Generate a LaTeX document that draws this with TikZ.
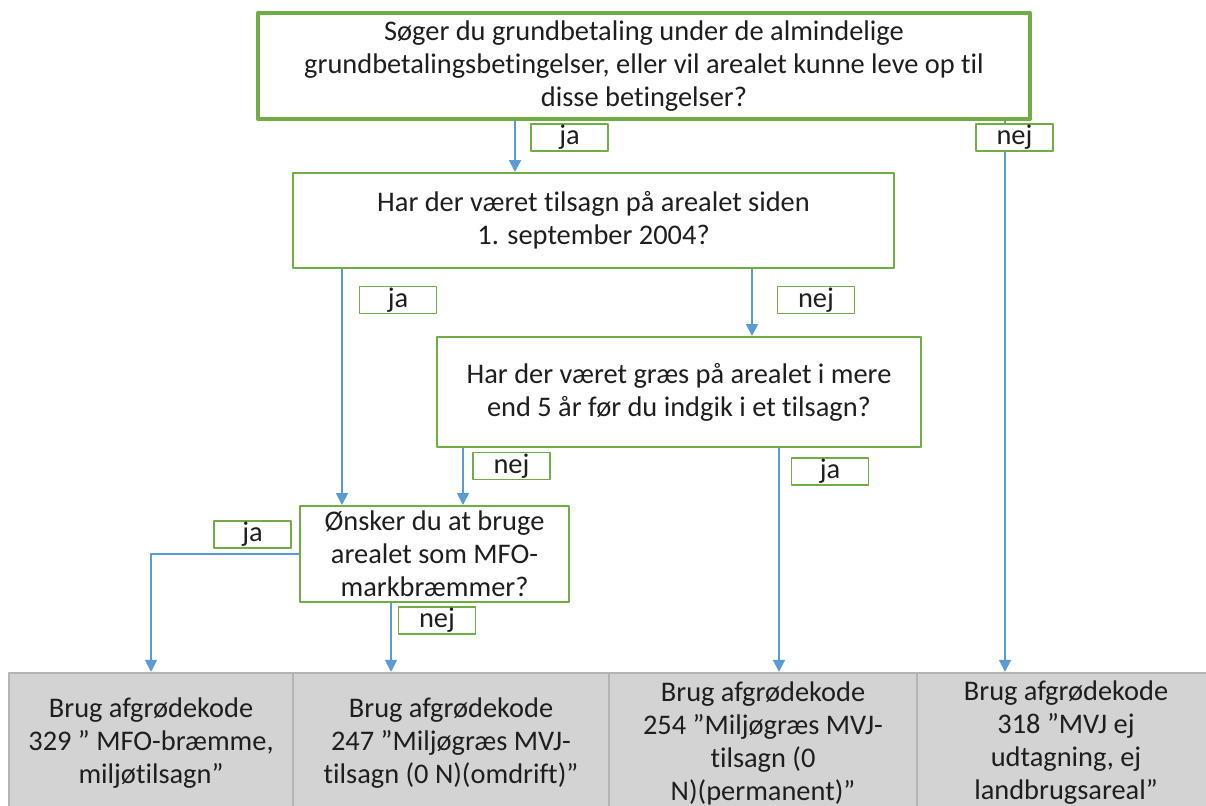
\documentclass[tikz,border=0pt]{standalone}
\usepackage{fontspec}
\setmainfont{Carlito}[Ligatures=NoCommon]
\usetikzlibrary{arrows.meta}
\definecolor{boxgreen}{HTML}{70AD47}
\definecolor{arrowblue}{HTML}{5B9BD5}
\definecolor{codegray}{HTML}{D3D3D3}
\definecolor{codeline}{HTML}{B4B4B4}
\definecolor{txt}{HTML}{1E1E1E}
\tikzset{
	question/.style = {draw=boxgreen, line width=1pt, fill=white, align=center, text=txt, inner sep=2pt},
	answer/.style = {draw=boxgreen, line width=0.8pt, fill=white, text=txt, inner sep=0pt, minimum width=38.5pt, minimum height=13.5pt},
	codebox/.style = {draw=codeline, line width=1.2pt, fill=codegray, align=center, text=txt, inner sep=2pt, minimum height=70pt},
	arr/.style = {draw=arrowblue, line width=0.9pt, -{Triangle[width=6pt,length=6pt]}}
}
\begin{document}
\begin{tikzpicture}[x=0.5pt, y=-0.5pt, font=\fontsize{14.2}{16.5}\selectfont, line join = round]
		\clip (0,0) rectangle (1206,805);
		\fill [white] (0,0) rectangle (1206,805);
		% questions
		\node [question, line width=2pt, minimum width=386pt, minimum height=53pt] (q1) at (644,66)
			{Søger du grundbetaling under de almindelige\\grundbetalingsbetingelser, eller vil arealet kunne leve op til\\disse betingelser?};
		\node [question, minimum width=300.5pt, minimum height=47.5pt] (q2) at (593.5,220.5)
			{Har der været tilsagn på arealet siden\\1. september 2004?};
		\node [question, minimum width=242pt, minimum height=55pt] (q3) at (679,392)
			{Har der været græs på arealet i mere\\end 5 år før du indgik i et tilsagn?};
		\node [question, minimum width=134.5pt, minimum height=48pt] (q4) at (434.5,554)
			{Ønsker du at bruge\\arealet som MFO-\\markbræmmer?};
		% crop codes
		\node [codebox, minimum width=142pt] (b1) at (151,743)
			{Brug afgrødekode\\329 ” MFO-bræmme,\\miljøtilsagn”};
		\node [codebox, minimum width=158pt] (b2) at (451,743)
			{Brug afgrødekode\\247 ”Miljøgræs MVJ-\\tilsagn (0 N)(omdrift)”};
		\node [codebox, minimum width=154pt] (b3) at (763,743)
			{Brug afgrødekode\\254 ”Miljøgræs MVJ-\\tilsagn (0\\N)(permanent)”};
		\node [codebox, minimum width=149pt] (b4) at (1066,743)
			{Brug afgrødekode\\318 ”MVJ ej\\udtagning, ej\\landbrugsareal”};
		% connectors
		\draw [arr] (q1.south -| 515,0) -- (q2.north -| 515,0);
		\draw [arr] (q1.south -| 1005,0) -- (b4.north -| 1005,0);
		\draw [arr] (q2.south -| 342,0) -- (q4.north -| 342,0);
		\draw [arr] (q2.south -| 752,0) -- (q3.north -| 752,0);
		\draw [arr] (q3.south -| 463,0) -- (q4.north -| 463,0);
		\draw [arr] (q3.south -| 779,0) -- (b3.north -| 779,0);
		\draw [arr] (q4.west) -| (b1.north);
		\draw [arr] (q4.south -| 391,0) -- (b2.north -| 391,0);
		% answers
		\node [answer] (a1) at (569.5,137.5) {ja};
		\node [answer] (a2) at (1014.5,137.5) {nej};
		\node [answer] (a3) at (398,300) {ja};
		\node [answer] (a4) at (816,300) {nej};
		\node [answer] (a5) at (511.5,466) {nej};
		\node [answer] (a6) at (830,471.5) {ja};
		\node [answer] (a7) at (252.5,534.5) {ja};
		\node [answer] (a8) at (437,620.5) {nej};
		\end{tikzpicture}
\end{document}
